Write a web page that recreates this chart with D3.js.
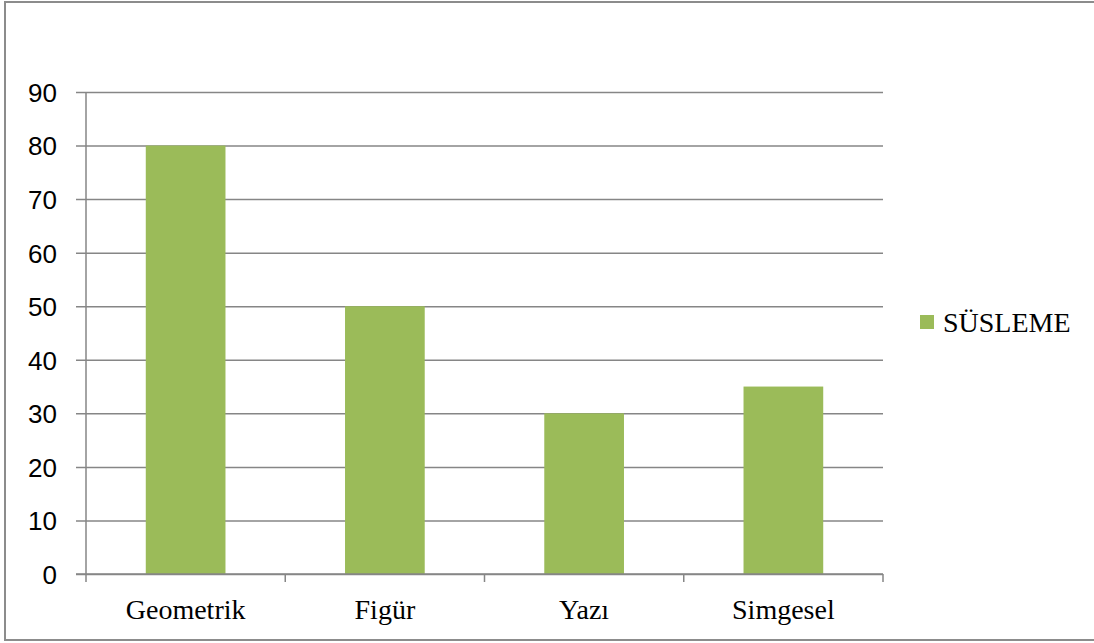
<!DOCTYPE html>
<html>
<head>
<meta charset="utf-8">
<script src="https://cdn.jsdelivr.net/npm/d3@7"></script>
<style>
  body { margin: 0; background: #fff; }
  svg { display: block; }
</style>
</head>
<body>
<script>
// data
var categories = ["Geometrik", "Figür", "Yazı", "Simgesel"];
var values = [80, 50, 30, 35];
var seriesName = "SÜSLEME";
var yTicks = [0, 10, 20, 30, 40, 50, 60, 70, 80, 90];

var width = 1094, height = 643;
var margin = {left: 86, right: 211, top: 92, bottom: 69};
var green = "#9bbb59", grid = "#868686";

var svg = d3.select("body").append("svg")
    .attr("width", width)
    .attr("height", height);

// outer frame (top, left, bottom only - right edge is cut off)
svg.append("path")
    .attr("d", "M" + width + ",2H5V640H" + width)
    .attr("fill", "none")
    .attr("stroke", "#8c8c8c")
    .attr("stroke-width", 2);

var x = d3.scaleBand()
    .domain(categories)
    .range([margin.left, width - margin.right])
    .paddingInner(0.6)
    .paddingOuter(0.3);

var y = d3.scaleLinear()
    .domain([0, 90])
    .range([height - margin.bottom, margin.top]);

// gridlines + y labels
var yAxis = svg.append("g")
    .attr("transform", "translate(" + margin.left + ",0)")
    .call(d3.axisLeft(y).tickValues(yTicks).tickSize(-(width - margin.right - margin.left)).tickSizeOuter(0).tickPadding(29));
yAxis.select(".domain").remove();
yAxis.selectAll(".tick line")
    .attr("x1", -10)
    .attr("stroke", grid)
    .attr("stroke-width", 1.5);
yAxis.selectAll(".tick text")
    .attr("font-family", "'Liberation Sans', Arial, sans-serif")
    .attr("font-size", 26)
    .attr("fill", "#000")
    .attr("dy", "0.36em");

// y axis line
svg.append("line")
    .attr("x1", margin.left).attr("x2", margin.left)
    .attr("y1", y(90)).attr("y2", y(0))
    .attr("stroke", grid).attr("stroke-width", 1.5);

// bars
svg.append("g").selectAll("rect")
    .data(values)
    .enter().append("rect")
    .attr("x", function(d, i) { return x(categories[i]); })
    .attr("y", function(d) { return y(d); })
    .attr("width", x.bandwidth())
    .attr("height", function(d) { return y(0) - y(d); })
    .attr("fill", green);

// x axis: ticks at category boundaries
var bounds = [margin.left].concat(categories.map(function(c) { return x(c) - x.step() * x.paddingInner() / 2 + x.step(); }));
bounds[bounds.length - 1] = width - margin.right;
var xg = svg.append("g");
xg.append("line")
    .attr("x1", margin.left - 10).attr("x2", width - margin.right)
    .attr("y1", y(0)).attr("y2", y(0))
    .attr("stroke", grid).attr("stroke-width", 1.5);
xg.selectAll(".xt")
    .data(bounds)
    .enter().append("line")
    .attr("x1", function(d) { return d; }).attr("x2", function(d) { return d; })
    .attr("y1", y(0)).attr("y2", y(0) + 8)
    .attr("stroke", grid).attr("stroke-width", 1.5);
xg.selectAll("text")
    .data(categories)
    .enter().append("text")
    .attr("x", function(d) { return x(d) + x.bandwidth() / 2; })
    .attr("y", 619)
    .attr("text-anchor", "middle")
    .attr("font-family", "'Liberation Serif', 'Times New Roman', serif")
    .attr("font-size", 28)
    .text(function(d) { return d; });

// legend
var lg = svg.append("g").attr("transform", "translate(920,315)");
lg.append("rect")
    .attr("width", 14).attr("height", 14)
    .attr("fill", green);
lg.append("text")
    .attr("x", 23).attr("y", 17)
    .attr("font-family", "'Liberation Serif', 'Times New Roman', serif")
    .attr("font-size", 28)
    .text(seriesName);
</script>
</body>
</html>
